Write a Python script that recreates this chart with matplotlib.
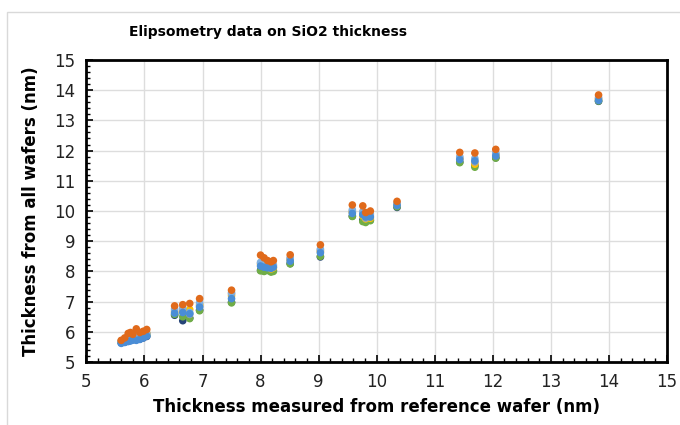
import matplotlib.pyplot as plt
from matplotlib.patches import Rectangle
from matplotlib.ticker import MultipleLocator

# reference wafer thickness (nm)
ref_x = [5.60, 5.66, 5.72, 5.76, 5.80, 5.86, 5.92, 5.98, 6.04,
         6.52, 6.66, 6.78, 6.95, 7.50,
         8.00, 8.06, 8.12, 8.18, 8.22, 8.51, 9.03,
         9.58, 9.76, 9.81, 9.89, 10.35,
         11.43, 11.69, 12.05, 13.82]

# thickness measured on the other wafers (nm)
wafer_navy = [5.64, 5.66, 5.70, 5.72, 5.74, 5.74, 5.76, 5.80, 5.85,
              6.55, 6.37, 6.46, 6.72, 6.98,
              8.04, 8.02, 8.05, 8.00, 8.03, 8.26, 8.48,
              9.83, 9.70, 9.66, 9.70, 10.12,
              11.62, 11.50, 11.76, 13.63]
wafer_green = [5.66, 5.68, 5.74, 5.76, 5.78, 5.80, 5.82, 5.86, 5.90,
               6.58, 6.50, 6.44, 6.70, 6.96,
               8.02, 8.00, 8.03, 7.98, 8.00, 8.25, 8.50,
               9.82, 9.65, 9.62, 9.68, 10.14,
               11.60, 11.45, 11.75, 13.64]
wafer_yellow = [5.68, 5.72, 5.80, 5.84, 5.82, 5.90, 5.86, 5.90, 5.95,
                6.66, 6.70, 6.74, 6.90, 7.20,
                8.24, 8.20, 8.16, 8.08, 8.12, 8.38, 8.66,
                9.96, 9.84, 9.74, 9.76, 10.20,
                11.72, 11.55, 11.85, 13.70]
wafer_gray = [5.70, 5.74, 5.82, 5.86, 5.84, 5.92, 5.88, 5.92, 5.96,
              6.70, 6.74, 6.58, 6.86, 7.26,
              8.28, 8.22, 8.20, 8.14, 8.18, 8.42, 8.70,
              10.00, 9.92, 9.76, 9.84, 10.22,
              11.76, 11.62, 11.88, 13.72]
wafer_blue = [5.62, 5.65, 5.68, 5.70, 5.73, 5.72, 5.75, 5.80, 5.86,
              6.62, 6.64, 6.60, 6.82, 7.10,
              8.18, 8.14, 8.12, 8.10, 8.14, 8.34, 8.62,
              9.92, 9.88, 9.80, 9.80, 10.18,
              11.70, 11.66, 11.82, 13.66]
wafer_lightblue = [5.66, 5.70, 5.76, 5.78, 5.80, 5.84, 5.82, 5.86, 5.92,
                   6.76, 6.80, 6.64, 6.96, 7.30,
                   8.30, 8.26, 8.22, 8.18, 8.22, 8.45, 8.74,
                   10.04, 9.98, 9.85, 9.90, 10.26,
                   11.80, 11.74, 11.92, 13.76]
wafer_orange = [5.72, 5.80, 5.95, 5.98, 5.92, 6.10, 5.98, 6.02, 6.08,
                6.86, 6.90, 6.94, 7.10, 7.38,
                8.54, 8.45, 8.36, 8.32, 8.36, 8.55, 8.88,
                10.20, 10.17, 9.95, 10.00, 10.32,
                11.94, 11.92, 12.04, 13.84]

series = [(wafer_navy, '#264478'), (wafer_green, '#70AD47'),
          (wafer_yellow, '#FFC000'), (wafer_gray, '#A5A5A5'),
          (wafer_lightblue, '#7FB0E0'), (wafer_blue, '#4A8DD6'),
          (wafer_orange, '#E06A1B')]

plt.rcParams['font.family'] = 'DejaVu Sans'

fig = plt.figure(figsize=(6.8, 4.25), dpi=100)
fig.patches.append(Rectangle((7 / 680, -0.02), 1.0, 1 - 12 / 425 + 0.02,
                             transform=fig.transFigure, fill=False,
                             edgecolor='#D9D9D9', linewidth=1))
ax = fig.add_axes([0.127, 0.148, 0.854, 0.711])

for vals, col in series:
    ax.scatter(ref_x, vals, s=30, color=col, edgecolors='none', zorder=3)

ax.set_xlim(5, 15)
ax.set_ylim(5, 15)
ax.xaxis.set_major_locator(MultipleLocator(1))
ax.yaxis.set_major_locator(MultipleLocator(1))
ax.xaxis.set_minor_locator(MultipleLocator(0.2))
ax.yaxis.set_minor_locator(MultipleLocator(0.2))
ax.grid(True, which='major', color='#DDDDDD', linewidth=1)
ax.set_axisbelow(True)

for sp in ax.spines.values():
    sp.set_linewidth(2)
    sp.set_color('black')

ax.tick_params(which='major', direction='in', length=5, width=1.2,
               labelsize=12, pad=8, colors='black', labelcolor='#222222')
ax.tick_params(which='minor', direction='in', length=3, width=1)
ax.tick_params(axis='y', which='both', left=True, right=False)
ax.tick_params(axis='x', which='both', bottom=True, top=False)

ax.set_xlabel('Thickness measured from reference wafer (nm)',
              fontsize=12, fontweight='bold', labelpad=5)
ax.set_ylabel('Thickness from all wafers (nm)',
              fontsize=12, fontweight='bold', labelpad=10)
fig.text(0.394, 0.924, 'Elipsometry data on SiO2 thickness',
         ha='center', va='center', fontsize=10, fontweight='bold')

fig.savefig('out.png', dpi=100)
